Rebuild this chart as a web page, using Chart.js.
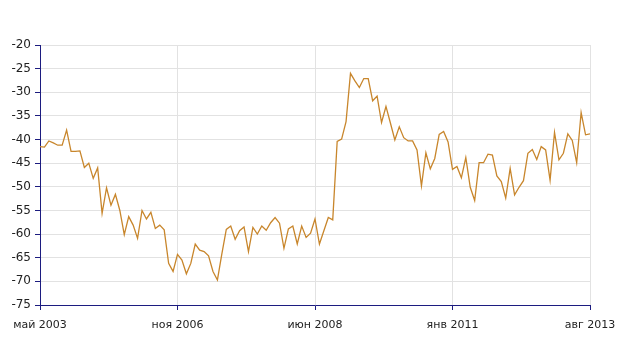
<!DOCTYPE html>
<html>
<head>
<meta charset="utf-8">
<script src="https://cdn.jsdelivr.net/npm/chart.js@4/dist/chart.umd.min.js"></script>
<style>
  html, body { margin: 0; padding: 0; background: #fff; }
</style>
</head>
<body>
<canvas id="chart" width="631" height="342"></canvas>
<script>
// подписи оси X (каждая 31-я точка)
const tickLabels = ["май 2003", "ноя 2006", "июн 2008", "янв 2011", "авг 2013"]
const tickStep = 31

// значения ряда
const values = [
  -41.5, -41.6, -40.3, -40.7, -41.2, -41.2, -38.0, -42.5, -42.5, -42.4,
  -45.9, -45.0, -48.2, -46.0, -55.6, -50.2, -53.9, -51.6, -55.0, -60.1,
  -56.3, -58.1, -60.9, -55.0, -56.8, -55.4, -58.8, -58.1, -59.1, -66.2,
  -67.9, -64.3, -65.5, -68.4, -66.2, -62.1, -63.4, -63.7, -64.6, -67.9,
  -69.7, -64.2, -59.0, -58.3, -61.1, -59.3, -58.5, -63.7, -58.6, -60.0,
  -58.3, -59.2, -57.6, -56.5, -57.7, -63.0, -58.9, -58.3, -62.1, -58.3,
  -60.7, -59.8, -56.8, -62.1, -59.3, -56.5, -57.0, -40.4, -39.9, -36.2,
  -26.0, -27.6, -29.0, -27.1, -27.1, -31.8, -30.8, -36.4, -33.0, -36.5,
  -40.1, -37.3, -39.6, -40.3, -40.3, -42.2, -49.8, -42.8, -46.2, -44.0,
  -38.9, -38.3, -40.5, -46.3, -45.7, -48.1, -43.8, -50.1, -52.9, -44.9,
  -44.9, -43.1, -43.3, -47.7, -48.9, -52.4, -46.1, -51.7, -50.1, -48.7,
  -42.9, -42.1, -44.2, -41.5, -42.2, -48.6, -38.5, -44.3, -42.9, -38.8,
  -40.2, -44.9, -34.3, -39.0, -38.8
]

const points = values.map((v, i) => ({ x: i, y: v }))

const axisColor = "#1c1c80"
const gridColor = "#e2e2e2"
const font = { family: "DejaVu Sans", size: 11 }

new Chart(document.getElementById("chart").getContext("2d"), {
  type: "line",
  data: {
    datasets: [
      {
        data: points,
        borderColor: "#c8862c",
        borderWidth: 1.3,
        pointRadius: 0,
        tension: 0,
        fill: false,
      },
    ],
  },
  options: {
    responsive: false,
    animation: false,
    events: [],
    layout: { padding: { top: 45, right: 41, left: 0, bottom: 0 } },
    plugins: {
      legend: { display: false },
      tooltip: { enabled: false },
    },
    scales: {
      x: {
        type: "linear",
        min: 0,
        max: values.length - 1,
        afterFit: (scale) => { scale.height = 37 },
        border: { color: axisColor, width: 1 },
        grid: { color: gridColor, tickColor: axisColor, tickLength: 5 },
        ticks: {
          stepSize: tickStep,
          autoSkip: false,
          maxRotation: 0,
          padding: 9,
          color: "#222",
          font: font,
          callback: (value) => tickLabels[value / tickStep] || "",
        },
      },
      y: {
        min: -75,
        max: -20,
        afterFit: (scale) => { scale.width = 40 },
        border: { color: axisColor, width: 1 },
        grid: { color: gridColor, tickColor: axisColor, tickLength: 5 },
        ticks: {
          stepSize: 5,
          padding: 4,
          color: "#222",
          font: { family: "DejaVu Sans", size: 12 },
        },
      },
    },
  },
})
</script>
</body>
</html>
